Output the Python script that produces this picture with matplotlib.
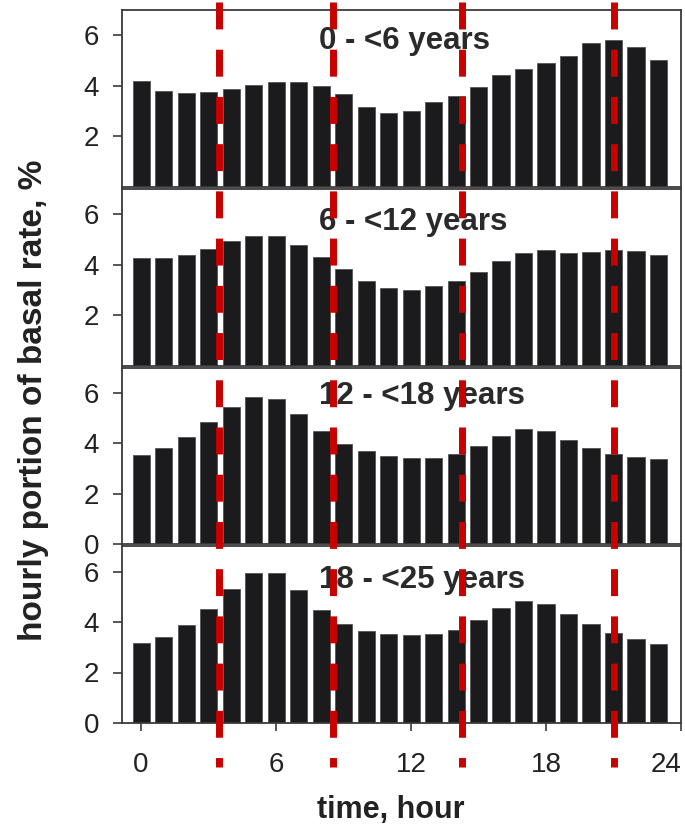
import matplotlib
matplotlib.use("Agg")
import matplotlib.pyplot as plt
import numpy as np

plt.rcParams['font.family'] = ['Liberation Sans', 'DejaVu Sans']

hours = list(range(24))
age_groups = ["0 - <6 years", "6 - <12 years", "12 - <18 years", "18 - <25 years"]
rate_0_6 = [4.20, 3.78, 3.70, 3.76, 3.87, 4.04, 4.16, 4.15, 4.00, 3.68, 3.17, 2.92,
            3.00, 3.34, 3.60, 3.96, 4.42, 4.66, 4.92, 5.18, 5.68, 5.82, 5.55, 5.01]
rate_6_12 = [4.26, 4.24, 4.38, 4.62, 4.95, 5.12, 5.13, 4.79, 4.29, 3.81, 3.36, 3.07,
             2.99, 3.13, 3.36, 3.72, 4.15, 4.46, 4.58, 4.46, 4.48, 4.58, 4.52, 4.38]
rate_12_18 = [3.54, 3.80, 4.23, 4.85, 5.42, 5.85, 5.74, 5.15, 4.50, 3.97, 3.69, 3.50,
              3.40, 3.40, 3.56, 3.89, 4.30, 4.55, 4.47, 4.13, 3.81, 3.56, 3.46, 3.39]
rate_18_25 = [3.16, 3.42, 3.88, 4.53, 5.30, 5.95, 5.95, 5.26, 4.46, 3.92, 3.65, 3.51,
              3.50, 3.51, 3.70, 4.08, 4.54, 4.83, 4.73, 4.30, 3.92, 3.57, 3.32, 3.12]
series = [rate_0_6, rate_6_12, rate_12_18, rate_18_25]
xticks = [0, 6, 12, 18, 24]
yticks_top = [2, 4, 6]
yticks_bottom = [0, 2, 4, 6]
red_lines = [3.45, 8.55, 14.25, 21.0]

W, H = 685, 825
fig = plt.figure(figsize=(W / 100, H / 100), dpi=100)

left_px, right_px = 122, 681
top_px, bottom_px, gap_px = 10, 723, 2
ph = (bottom_px - top_px - 3 * gap_px) / 4
xlim = (-0.85, 24.0)
bar_color = '#1b1b1d'
spine_color = '#3a3a3a'
txt_color = '#222222'
title_y = [0.826, 0.81, 0.84, 0.81]

axes = []
for i, vals in enumerate(series):
    t = top_px + i * (ph + gap_px)
    ax = fig.add_axes([left_px / W, 1 - (t + ph) / H, (right_px - left_px) / W, ph / H])
    ax.bar(hours, vals, width=0.76, color=bar_color, edgecolor='#555555', linewidth=0.6)
    ax.set_xlim(*xlim)
    ax.set_ylim(0, 7.0)
    ax.set_yticks(yticks_top if i < 2 else yticks_bottom)
    ax.tick_params(axis='y', direction='out', length=6.5, width=1.2, color=spine_color,
                   labelsize=20, pad=10, labelcolor=txt_color)
    for s in ax.spines.values():
        s.set_color(spine_color)
        s.set_linewidth(1.3)
    if i < 3:
        ax.set_xticks([])
    else:
        ax.set_xticks(xticks)
        ax.tick_params(axis='x', direction='out', length=6, width=1.2, color=spine_color,
                       labelsize=20, pad=15, labelcolor=txt_color)
        ax.get_xticklabels()[-1].set_horizontalalignment('right')
    ax.text(0.352, title_y[i], age_groups[i], transform=ax.transAxes, ha='left', va='center',
            fontsize=22.5, fontweight='bold', color='#2a2a2a')
    axes.append(ax)

fig.text(34 / W, 1 - 400 / H, "hourly portion of basal rate, %", rotation=90,
         ha='center', va='center', fontsize=24, fontweight='bold', color=txt_color)
fig.text(391 / W, 1 - 818 / H, "time, hour", ha='center', va='baseline',
         fontsize=22, fontweight='bold', color=txt_color)

# overlay for red dashed lines spanning the panels
ov = fig.add_axes([left_px / W, 0, (right_px - left_px) / W, 1], zorder=10)
ov.set_xlim(*xlim)
ov.set_ylim(H, 0)
ov.patch.set_alpha(0)
ov.axis('off')
for xr in red_lines:
    ov.plot([xr, xr], [2, 767], color='#c80000', linewidth=5.0,
            linestyle=(0, (19.4 / 5.0, 14.6 / 5.0)), solid_capstyle='butt')

fig.savefig("out.png", dpi=100)
